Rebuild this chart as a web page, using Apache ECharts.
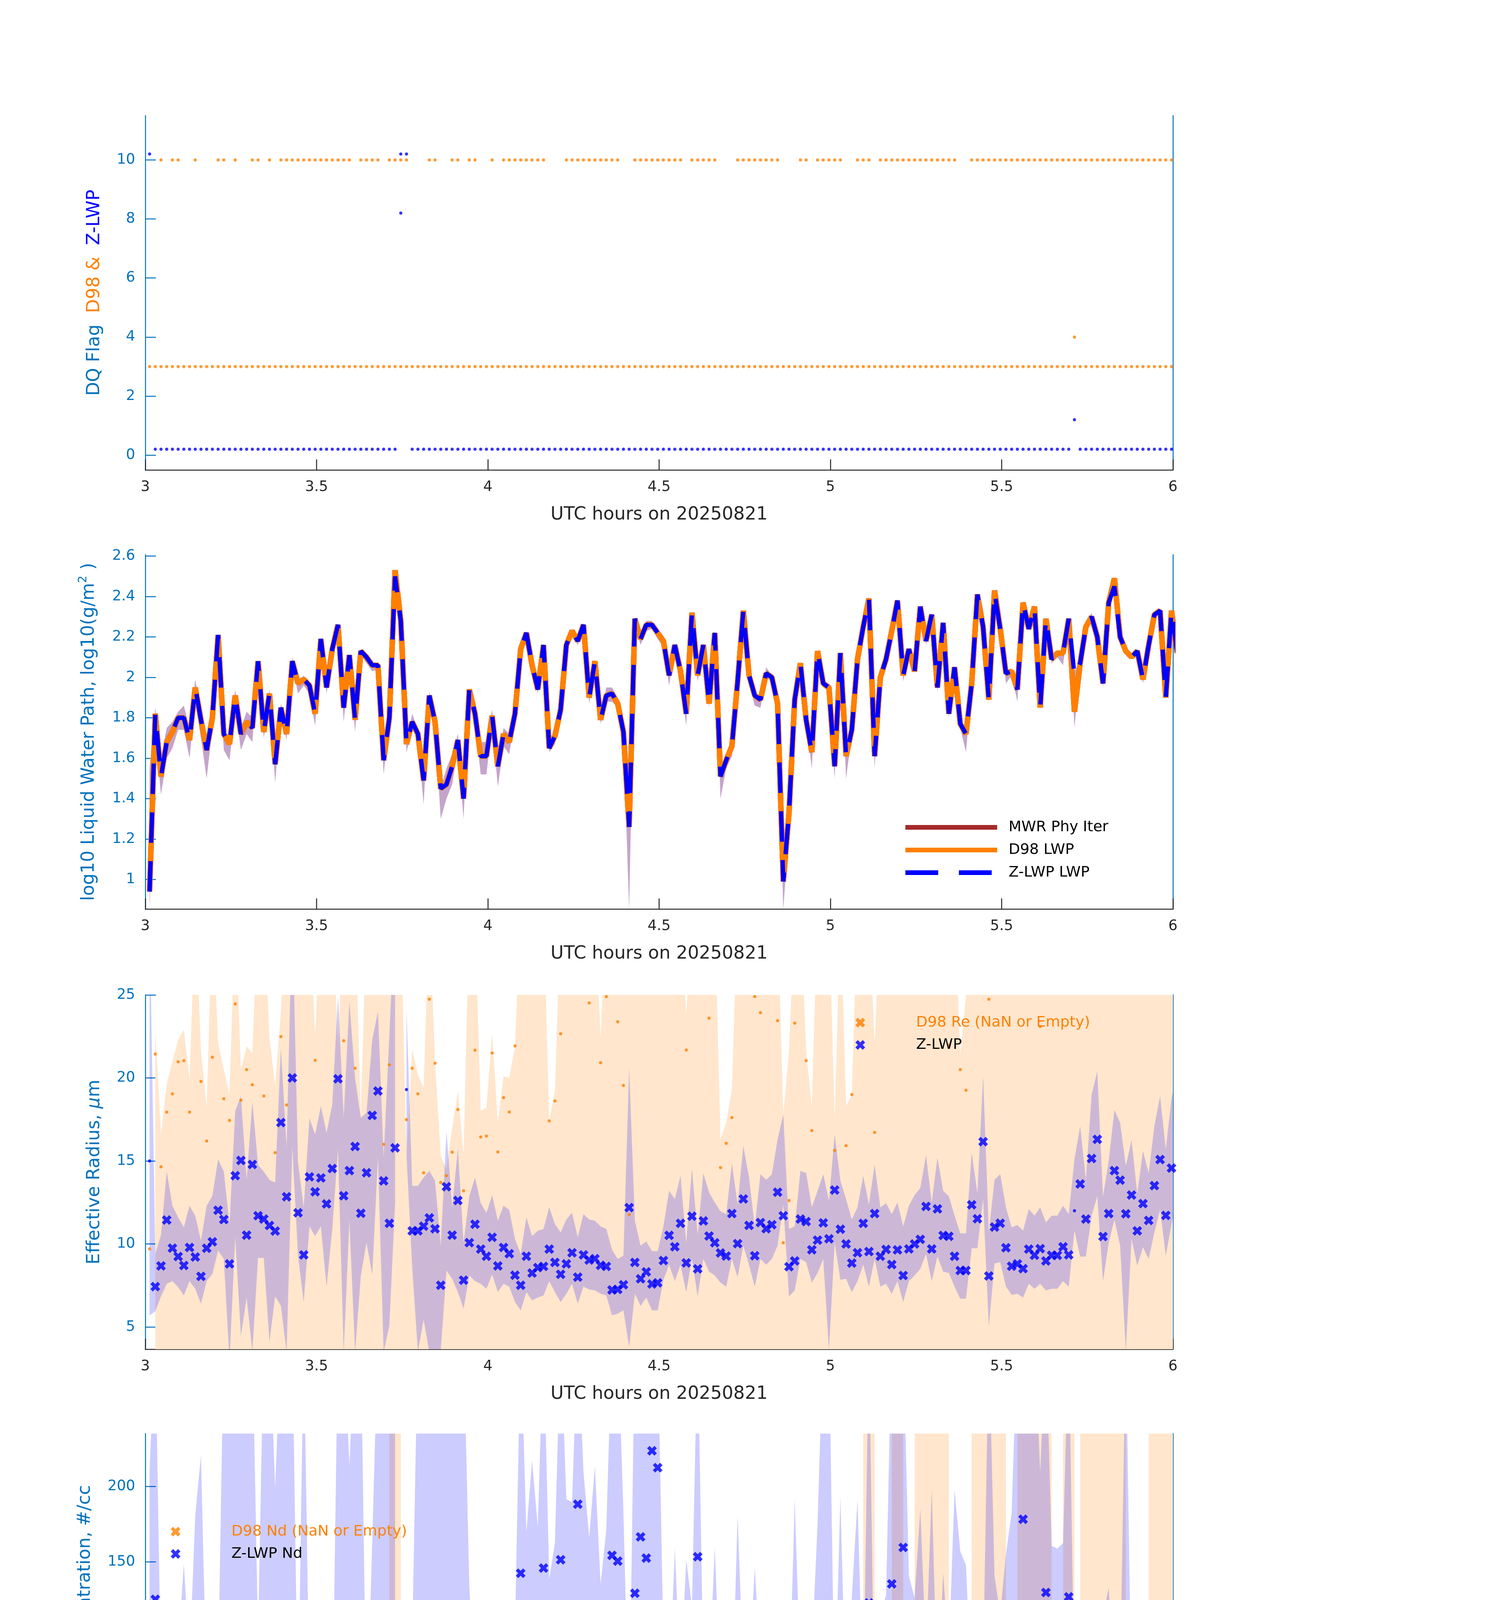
<!DOCTYPE html>
<html><head><meta charset="utf-8">
<script src="https://cdn.jsdelivr.net/npm/echarts@6/dist/echarts.min.js"></script>
<style>html,body{margin:0;padding:0;background:#fff}#chart{width:3825px;height:6000px}</style>
</head><body><div id="chart"></div>
<script>
// ---------------- time base: one sample per minute ----------------
const START_HOUR = 3.0125;
const STEP_HOUR = 1 / 60;

// ---------------- Panel 1: DQ flags ----------------
const zlwpDq = [
 10.2,0.2,0.2,0.2,0.2,0.2,0.2,0.2,0.2,0.2,
 0.2,0.2,0.2,0.2,0.2,0.2,0.2,0.2,0.2,0.2,
 0.2,0.2,0.2,0.2,0.2,0.2,0.2,0.2,0.2,0.2,
 0.2,0.2,0.2,0.2,0.2,0.2,0.2,0.2,0.2,0.2,
 0.2,0.2,0.2,0.2,10.2,10.2,0.2,0.2,0.2,0.2,
 0.2,0.2,0.2,0.2,0.2,0.2,0.2,0.2,0.2,0.2,
 0.2,0.2,0.2,0.2,0.2,0.2,0.2,0.2,0.2,0.2,
 0.2,0.2,0.2,0.2,0.2,0.2,0.2,0.2,0.2,0.2,
 0.2,0.2,0.2,0.2,0.2,0.2,0.2,0.2,0.2,0.2,
 0.2,0.2,0.2,0.2,0.2,0.2,0.2,0.2,0.2,0.2,
 0.2,0.2,0.2,0.2,0.2,0.2,0.2,0.2,0.2,0.2,
 0.2,0.2,0.2,0.2,0.2,0.2,0.2,0.2,0.2,0.2,
 0.2,0.2,0.2,0.2,0.2,0.2,0.2,0.2,0.2,0.2,
 0.2,0.2,0.2,0.2,0.2,0.2,0.2,0.2,0.2,0.2,
 0.2,0.2,0.2,0.2,0.2,0.2,0.2,0.2,0.2,0.2,
 0.2,0.2,0.2,0.2,0.2,0.2,0.2,0.2,0.2,0.2,
 0.2,0.2,1.2,0.2,0.2,0.2,0.2,0.2,0.2,0.2,
 0.2,0.2,0.2,0.2,0.2,0.2,0.2,0.2,0.2,0.2,
 0.2];
const zlwpDqExtra = [[44, 8.2]];
const d98DqLow = [
 3,3,3,3,3,3,3,3,3,3, 3,3,3,3,3,3,3,3,3,3, 3,3,3,3,3,3,3,3,3,3,
 3,3,3,3,3,3,3,3,3,3, 3,3,3,3,3,3,3,3,3,3, 3,3,3,3,3,3,3,3,3,3,
 3,3,3,3,3,3,3,3,3,3, 3,3,3,3,3,3,3,3,3,3, 3,3,3,3,3,3,3,3,3,3,
 3,3,3,3,3,3,3,3,3,3, 3,3,3,3,3,3,3,3,3,3, 3,3,3,3,3,3,3,3,3,3,
 3,3,3,3,3,3,3,3,3,3, 3,3,3,3,3,3,3,3,3,3, 3,3,3,3,3,3,3,3,3,3,
 3,3,3,3,3,3,3,3,3,3, 3,3,3,3,3,3,3,3,3,3, 3,3,3,3,3,3,3,3,3,3,
 3];
const d98DqHigh = [
 null,null,10,null,10,10,null,null,10,null,
 null,null,10,10,null,10,null,null,10,10,
 null,10,null,10,10,10,10,10,10,10,
 10,10,10,10,10,10,null,10,10,10,
 10,null,10,10,10,10,null,null,null,10,
 10,null,null,10,10,null,10,10,null,null,
 10,null,10,10,10,10,10,10,10,10,
 null,null,null,10,10,10,10,10,10,10,
 10,10,10,null,null,10,10,10,10,10,
 10,10,10,10,null,10,10,10,10,10,
 null,null,null,10,10,10,10,10,10,10,
 10,null,null,null,10,10,null,10,10,10,
 10,10,null,null,10,10,10,null,10,10,
 10,10,10,10,10,10,10,10,10,10,
 10,10,null,null,10,10,10,10,10,10,
 10,10,10,10,10,10,10,10,10,10,
 10,10,10,10,10,10,10,10,10,10,
 10,10,10,10,10,10,10,10,10,10,
 10];
const d98DqExtra = [[162, 4]];

// ---------------- Panel 2: log10 LWP ----------------
const zlwpLwp = [
 0.94,1.82,1.51,1.68,1.73,1.80,1.80,1.69,1.95,1.79,
 1.64,1.80,2.21,1.72,1.67,1.91,1.72,1.78,1.75,2.08,
 1.73,1.92,1.57,1.85,1.72,2.08,1.97,1.99,1.96,1.82,
 2.19,1.95,2.14,2.26,1.85,2.11,1.79,2.13,2.10,2.06,
 2.06,1.59,1.80,2.50,2.28,1.67,1.78,1.72,1.49,1.91,
 1.78,1.45,1.47,1.56,1.69,1.40,1.94,1.82,1.61,1.61,
 1.81,1.56,1.72,1.68,1.82,2.14,2.22,2.06,1.94,2.16,
 1.65,1.71,1.84,2.16,2.23,2.18,2.26,1.90,2.08,1.79,
 1.91,1.92,1.87,1.73,1.26,2.29,2.19,2.26,2.26,2.22,
 2.18,2.01,2.16,2.03,1.82,2.32,2.01,2.16,1.87,2.22,
 1.51,1.59,1.66,1.98,2.33,2.01,1.91,1.89,2.02,2.00,
 1.87,0.99,1.33,1.89,2.07,1.79,1.63,2.13,1.97,1.95,
 1.56,2.12,1.61,1.74,2.09,2.25,2.39,1.61,2.00,2.09,
 2.23,2.38,2.01,2.14,2.03,2.35,2.18,2.31,1.95,2.27,
 1.82,2.05,1.77,1.72,1.97,2.41,2.25,1.89,2.42,2.24,
 2.02,2.03,1.94,2.37,2.24,2.35,1.85,2.29,2.09,2.12,
 2.12,2.29,2.01,2.07,2.25,2.30,2.20,1.97,2.37,2.45,
 2.20,2.13,2.10,2.13,1.99,2.16,2.31,2.33,1.90,2.33,
 2.12];
const d98Lwp = [
 0.94,1.82,1.51,1.68,1.73,1.80,1.80,1.69,1.95,1.79,
 1.64,1.80,2.21,1.72,1.67,1.91,1.72,1.78,1.75,2.08,
 1.73,1.92,1.57,1.85,1.72,2.08,1.97,1.99,1.96,1.82,
 2.19,1.95,2.14,2.26,1.85,2.11,1.79,2.13,2.10,2.06,
 2.06,1.59,1.80,2.53,2.28,1.67,1.78,1.72,1.49,1.91,
 1.78,1.45,1.47,1.56,1.69,1.40,1.94,1.82,1.61,1.61,
 1.81,1.56,1.72,1.68,1.82,2.14,2.22,2.06,1.94,2.16,
 1.65,1.71,1.84,2.16,2.23,2.18,2.26,1.90,2.08,1.79,
 1.91,1.92,1.87,1.73,1.26,2.29,2.19,2.26,2.26,2.22,
 2.18,2.01,2.16,2.03,1.82,2.32,2.01,2.16,1.87,2.22,
 1.51,1.59,1.66,1.98,2.33,2.01,1.91,1.89,2.02,2.00,
 1.87,0.99,1.33,1.89,2.07,1.79,1.63,2.13,1.97,1.95,
 1.56,2.12,1.61,1.74,2.09,2.25,2.39,1.61,2.00,2.09,
 2.23,2.38,2.01,2.14,2.03,2.35,2.18,2.31,1.95,2.27,
 1.82,2.05,1.77,1.72,1.97,2.41,2.25,1.89,2.43,2.24,
 2.02,2.03,1.94,2.37,2.24,2.35,1.85,2.29,2.09,2.12,
 2.12,2.29,1.83,2.07,2.25,2.30,2.20,1.97,2.37,2.49,
 2.20,2.13,2.10,2.13,1.99,2.16,2.31,2.33,1.90,2.33,
 2.12];
const mwrLwp = d98Lwp; // MWR physical retrieval lies under the D98 curve
const lwpLo = [
 0.85,1.72,1.42,1.6,1.65,1.74,1.74,1.6,1.88,1.7,
 1.5,1.75,2.18,1.64,1.59,1.85,1.64,1.72,1.68,2.05,
 1.7,1.88,1.48,1.82,1.69,2.06,1.92,1.96,1.92,1.76,
 2.17,1.92,2.12,2.24,1.78,2.06,1.73,2.11,2.07,2.03,
 2.04,1.52,1.78,2.49,2.26,1.63,1.74,1.7,1.37,1.89,
 1.75,1.3,1.4,1.47,1.65,1.3,1.9,1.78,1.52,1.52,
 1.77,1.46,1.66,1.62,1.8,2.13,2.2,2.04,1.92,2.14,
 1.63,1.67,1.83,2.15,2.21,2.16,2.24,1.87,2.05,1.77,
 1.88,1.88,1.85,1.7,0.85,2.27,2.16,2.23,2.24,2.19,
 2.15,1.96,2.14,1.99,1.76,2.31,1.98,2.14,1.85,2.2,
 1.4,1.55,1.61,1.96,2.31,1.97,1.86,1.85,2.0,1.98,
 1.85,0.85,1.25,1.87,2.06,1.78,1.55,2.11,1.95,1.93,
 1.5,2.1,1.5,1.72,2.08,2.24,2.38,1.55,1.98,2.08,
 2.22,2.37,1.98,2.13,2.02,2.34,2.16,2.3,1.93,2.26,
 1.8,2.04,1.75,1.63,1.95,2.4,2.23,1.87,2.41,2.22,
 1.97,2.01,1.88,2.36,2.23,2.34,1.84,2.28,2.07,2.1,
 2.06,2.28,1.75,2.05,2.23,2.29,2.19,1.95,2.36,2.44,
 2.19,2.12,2.09,2.12,1.97,2.15,2.3,2.32,1.89,2.32,
 2.11];
const lwpHi = [
 1.55,1.85,1.6,1.75,1.78,1.83,1.86,1.75,1.99,1.82,
 1.66,1.82,2.22,1.75,1.68,1.94,1.75,1.83,1.8,2.09,
 1.75,1.94,1.6,1.87,1.75,2.1,1.97,2.01,1.97,1.82,
 2.2,1.96,2.15,2.27,1.85,2.11,1.8,2.13,2.1,2.07,
 2.07,1.6,1.8,2.53,2.3,1.67,1.82,1.74,1.5,1.93,
 1.79,1.45,1.55,1.62,1.72,1.42,1.95,1.83,1.68,1.68,
 1.84,1.57,1.75,1.72,1.84,2.15,2.23,2.07,1.95,2.17,
 1.66,1.72,1.85,2.17,2.24,2.19,2.27,1.91,2.09,1.8,
 1.95,1.95,1.9,1.75,1.28,2.3,2.2,2.28,2.28,2.22,
 2.18,2.02,2.17,2.04,1.83,2.33,2.02,2.17,1.88,2.23,
 1.51,1.62,1.67,1.99,2.34,2.02,1.91,1.9,2.05,2.01,
 1.87,1.05,1.42,1.9,2.08,1.8,1.64,2.14,1.98,1.96,
 1.58,2.13,1.62,1.75,2.1,2.26,2.4,1.62,2.0,2.1,
 2.24,2.39,2.02,2.15,2.04,2.36,2.19,2.32,1.96,2.28,
 1.83,2.06,1.8,1.74,1.98,2.42,2.26,1.9,2.43,2.25,
 2.03,2.04,1.95,2.38,2.25,2.36,1.87,2.3,2.1,2.13,
 2.12,2.3,2.03,2.08,2.26,2.32,2.21,1.98,2.38,2.49,
 2.21,2.14,2.11,2.14,2.0,2.17,2.32,2.34,1.91,2.34,
 2.13];

// ---------------- Panel 3: effective radius ----------------
const zlwpRe = [
 null,7.43,8.68,11.44,9.75,9.24,8.70,9.79,9.21,8.05,
 9.74,10.13,12.03,11.47,8.80,14.11,15.03,10.53,14.79,11.70,
 11.50,11.11,10.78,17.31,12.84,20.0,11.88,9.34,14.04,13.14,
 13.98,12.41,14.54,19.95,12.90,14.42,15.87,11.85,14.29,17.74,
 19.21,13.80,11.24,15.79,null,null,10.79,10.79,11.07,11.57,
 10.91,7.51,13.45,10.53,12.62,7.82,10.08,11.19,9.69,9.26,
 10.40,8.68,9.79,9.41,8.12,7.51,9.26,8.25,8.58,8.65,
 9.69,8.89,8.17,8.80,9.47,8.00,9.34,9.03,9.11,8.71,
 8.65,7.23,7.26,7.54,12.19,8.89,7.90,8.32,7.59,7.66,
 9.0,10.52,9.83,11.24,8.86,11.67,8.50,11.39,10.48,10.07,
 9.46,9.27,11.83,10.02,12.71,11.12,9.29,11.29,10.92,11.16,
 13.12,11.70,8.63,8.98,11.50,11.35,9.65,10.23,11.27,10.31,
 13.25,10.89,10.0,8.85,9.47,11.24,9.54,11.83,9.26,9.67,
 8.76,9.64,8.10,9.70,10.0,10.28,12.26,9.70,12.11,10.51,
 10.46,9.26,8.40,8.40,12.36,11.52,16.16,8.07,11.02,11.25,
 9.77,8.66,8.80,8.51,9.69,9.32,9.72,8.98,9.32,9.31,
 9.83,9.34,null,13.61,11.50,15.15,16.30,10.45,11.83,14.42,
 13.84,11.82,12.95,10.79,12.43,11.42,13.51,15.08,11.72,14.57,
 16.0];
const zlwpReFlagged = [[0, 15.0], [45, 19.3], [162, 12.0]];
const reLo = [
 5.7,5.94,6.85,7.6,7.76,7.4,6.9,7.76,7.3,6.4,
 7.76,8.2,9.6,9.1,3.0,10.4,4.46,6.77,3.55,9.16,
 9.16,4.13,6.85,6.27,3.5,15.84,9.3,6.5,11.06,10.48,
 11.06,7.43,10.9,15.7,3.5,11.4,3.5,8.1,10.07,8.16,
 15.2,3.5,5.1,12.5,null,15.35,8.6,3.5,5.45,3.5,
 3.5,3.6,8.4,7.9,7.1,6.1,8.1,7.76,7.6,7.3,
 8.16,7.1,7.6,7.43,6.5,6.0,7.1,6.6,6.77,6.9,
 7.76,7.1,6.5,7.0,7.6,6.4,7.43,7.26,7.2,7.0,
 6.9,5.7,5.8,6.0,3.8,7.0,6.27,6.77,6.0,6.0,
 7.84,8.75,7.76,8.75,7.1,9.1,6.85,9.1,8.33,8.1,
 7.67,7.43,9.1,8.0,9.9,8.75,7.43,9.1,8.75,9.1,
 9.9,12.38,6.85,7.2,9.1,8.9,7.67,8.25,9.1,3.6,
 10.07,7.84,7.9,7.1,7.76,8.75,7.43,9.1,7.43,7.6,
 7.0,7.76,6.5,7.76,8.1,8.5,9.4,7.76,9.24,8.33,
 8.25,7.43,6.7,6.7,9.74,9.74,12.7,5.03,8.83,8.9,
 7.43,6.93,7.0,6.77,7.6,7.3,7.6,7.2,7.3,7.3,
 7.76,7.43,10.8,9.24,9.24,11.7,12.87,7.76,10.07,11.47,
 9.9,3.55,10.3,8.7,9.8,9.1,10.7,12.05,9.3,11.2,
 12.7];
const reHi = [
 30,9.4,10.56,14.36,12.3,11.6,11.0,12.3,11.7,10.2,
 12.3,12.9,15.1,14.36,11.2,18.0,18.9,13.86,18.56,14.77,
 14.36,13.86,13.7,21.8,15.84,30,14.9,12.2,17.57,16.6,
 18.3,16.7,18.4,24.9,17.65,24.6,19.97,17.6,17.9,22.3,
 24.0,15.2,22.6,30,null,24.2,13.5,13.5,14.0,14.4,
 13.8,9.9,16.8,12.2,15.76,10.07,12.87,14.0,12.46,11.88,
 12.95,11.4,12.3,12.05,10.3,9.4,11.6,10.48,10.8,10.9,
 12.2,11.2,10.7,11.47,11.88,10.4,11.8,11.47,11.4,11.06,
 10.9,9.65,9.1,9.3,20.6,11.4,9.9,10.15,9.57,9.57,
 11.06,13.2,12.7,14.1,10.07,14.55,10.56,14.27,13.1,12.5,
 11.96,11.8,14.85,12.38,15.9,14.0,11.06,14.2,13.86,14.2,
 16.3,17.8,10.9,11.06,14.4,14.27,12.2,13.2,14.2,12.6,
 16.6,13.8,12.7,11.47,12.2,14.1,12.38,14.77,12.2,12.46,
 11.8,12.5,11.06,12.3,12.95,13.37,15.35,12.5,15.2,13.2,
 12.87,11.7,10.64,10.64,15.5,13.04,20.13,10.7,13.86,14.2,
 12.2,11.0,11.14,10.8,12.1,11.7,12.2,11.3,11.7,11.7,
 12.3,11.8,15.1,17.1,13.86,18.97,20.4,12.87,15.0,18.07,
 17.3,14.7,16.25,13.04,15.6,14.27,17.1,18.9,15.7,18.8,
 20.05];
const d98ReHi = [
 null,22.9,16.6,19.6,21.0,22.3,22.9,19.9,30,21.6,
 18.2,30,22.1,20.5,19.0,30,20.5,21.9,21.5,30,
 30,22.4,19.5,24.0,30,30,30,30,30,22.5,
 30,30,30,22.0,30,30,30,17.7,30,30,
 30,30,30,30,30,15.3,21.7,20.2,19.4,30,
 20.9,15.3,14.5,17.0,19.2,15.4,30,30,18.0,18.2,
 22.7,17.3,20.1,20.0,21.9,30,30,30,30,30,
 17.4,19.2,30,30,30,30,30,30,30,22.4,
 30,30,30,30,30,30,30,30,30,30,
 30,30,30,30,23.8,30,30,30,30,30,
 16.3,17.3,19.3,30,30,30,30,30,30,30,
 30,17.8,21.6,30,30,21.6,18.3,30,30,30,
 17.5,30,18.3,19.0,30,30,30,22.0,30,30,
 30,30,30,30,30,30,30,30,30,30,
 30,30,21.45,24.9,30,30,30,30,30,30,
 30,30,30,30,30,30,30,30,30,30,
 30,30,30,30,30,30,30,30,30,30,
 30,30,30,30,30,30,30,30,30,30,
 30];
const d98ReDots = [
 [0,9.7],[1,21.44],[2,14.65],[3,17.94],[4,19.04],[5,20.97],[6,21.04],[7,17.94],[9,19.79],[10,16.2],
 [11,21.25],[13,18.75],[14,17.44],[15,24.46],[16,18.66],[17,20.5],[18,19.59],[20,18.91],[22,15.5],[23,22.49],
 [24,18.37],[29,21.06],[34,22.24],[36,20.58],[41,16.0],[42,20.79],[45,17.49],[46,20.58],[47,19.04],[48,14.29],
 [49,24.74],[50,20.89],[51,13.7],[52,14.11],[53,15.53],[54,18.1],[55,13.2],[57,21.67],[58,16.44],[59,16.5],
 [60,21.5],[61,15.54],[62,18.81],[63,17.95],[64,21.93],[70,17.41],[71,18.61],[72,22.66],[77,24.52],[79,20.92],
 [80,24.9],[82,23.38],[83,19.55],[84,11.77],[94,21.68],[98,23.6],[100,14.6],[101,16.06],[102,17.61],[106,24.9],
 [107,23.93],[110,23.45],[111,10.07],[112,12.62],[113,23.3],[115,21.04],[116,16.83],[120,15.63],[122,15.92],[123,19.0],
 [127,16.72],[140,21.96],[142,20.5],[143,19.26],[147,24.74],[156,23.1]];

// ---------------- Panel 4: droplet concentration ----------------
const zlwpNd = [
 null,125.1,25.6,28.4,34.9,45.8,74.7,41.3,87.5,111.5,
 31.3,48.2,37.3,17.5,60.0,19.8,10.7,50.7,9.6,47.6,
 29.3,50.2,20.9,6.9,10.2,7.8,36.2,62.0,21.6,16.0,
 26.9,22.0,17.6,12.0,16.9,37.6,13.5,59.1,18.7,9.6,
 8.7,10.5,19.1,56.0,null,null,49.6,46.9,21.1,42.7,
 34.5,75.1,10.0,15.5,14.5,47.8,74.2,23.1,41.8,47.1,
 42.0,45.8,29.6,33.3,55.8,142.4,84.2,108.7,86.0,145.8,
 33.6,73.3,151.3,95.6,94.9,188.2,106.4,83.1,107.3,66.5,
 86.4,154.2,150.4,114.2,9.6,129.1,166.5,152.4,223.6,212.4,
 91.8,39.1,80.2,36.0,76.0,60.0,153.3,52.0,41.5,80.5,
 30.9,45.1,26.0,75.1,41.5,37.3,73.3,26.0,48.9,35.5,
 20.5,5.1,29.6,96.7,35.5,29.1,43.6,88.9,36.5,48.7,
 10.2,55.1,27.8,64.4,96.7,56.5,122.7,16.9,57.8,63.5,
 135.3,107.6,159.5,70.5,54.7,93.6,36.7,100.0,22.2,71.6,
 47.6,99.3,78.4,73.6,23.3,64.0,17.8,96.4,70.4,55.1,
 64.0,80.9,115.3,178.2,91.5,120.2,40.9,129.6,80.4,78.7,
 81.1,126.7,null,27.6,60.7,25.3,18.2,44.2,66.9,38.9,
 33.3,47.1,29.3,61.6,27.1,58.0,46.5,37.6,33.6,38.2,
 15.8];
const zlwpNdFlagged = [[0, 1.8], [44, 4.5], [45, 4.5], [162, 30.0]];
const ndLo = [
 0,62.4,13.3,15.1,22.4,36.9,37.8,20.5,42.4,55.1,
 15.1,24.2,18.7,7.8,29.6,7.8,4.2,25.1,4.2,15.1,
 11.5,24.2,13.3,2.4,3.3,2.4,6.0,44.2,9.6,8.7,
 13.3,10.5,9.6,5.1,9.6,15.1,5.1,16.9,9.6,5.1,
 6.0,6.9,9.6,9.6,null,null,24.2,23.3,16.9,17.8,
 16.9,15.1,6.0,7.8,7.8,22.4,36.9,15.1,22.4,24.2,
 21.5,22.4,15.1,16.9,27.8,71.5,42.4,54.2,44.2,76.9,
 16.9,47.8,69.6,47.8,47.8,100.5,53.3,41.5,53.3,33.3,
 44.2,77.8,75.1,56.9,0.5,64.2,83.3,76.9,115.1,106.0,
 53.3,19.6,44.2,18.7,36.9,30.5,104.2,26.0,20.5,29.6,
 15.1,20.5,13.3,35.1,20.5,18.7,35.1,15.1,27.8,18.7,
 11.5,0.5,11.5,71.5,18.7,15.1,22.4,38.7,18.7,24.2,
 6.0,16.9,11.5,23.3,47.8,29.6,71.5,13.3,30.5,35.1,
 62.4,54.2,78.7,35.1,29.6,49.6,18.7,49.6,16.9,38.7,
 27.8,42.4,38.7,36.9,13.3,26.0,9.6,47.8,35.1,27.8,
 33.3,44.2,75.1,87.8,60.5,71.5,20.5,89.6,40.5,39.6,
 40.5,64.2,11.5,13.3,29.6,11.5,8.7,27.8,38.7,20.5,
 16.9,22.4,15.1,35.1,15.1,31.5,24.2,18.7,16.9,20.5,
 8.0];
const ndHi = [
 211,300,71,120.5,69.6,91.5,148.7,84.2,180.5,220.9,
 62.4,97.8,75.1,300,300,300,300,300,300,100.5,
 300,300,198.7,300,300,300,44.2,300,60.5,36.9,
 60.5,53.3,35.1,300,300,214,300,300,35.1,163.3,
 300,300,300,300,null,null,98.7,300,300,300,
 300,300,300,300,300,300,135.1,53.3,89.6,100.5,
 84.2,91.5,60.5,73.3,102.4,300,169.6,216.9,173.3,300,
 138.7,162.4,300,191.5,189.6,300,209.6,166.0,213.3,135.1,
 171.5,300,300,182.4,35.1,300,300,300,300,300,
 96.9,62.4,158.7,71.5,151.5,120.5,300,76.0,71.5,159.6,
 62.4,88.7,49.6,180.5,76.9,73.3,146.0,80.5,96.9,80.5,
 56.9,8.7,53.3,191.5,71.5,58.7,89.6,175.1,300,300,
 51.5,193.3,47.8,126.0,191.5,53.3,300,40.5,115.1,127.8,
 300,300,300,140.5,126.0,185.1,89.6,197.8,60.5,142.4,
 89.6,197.8,156.9,147.8,60.5,126.0,78.7,300,140.5,115.1,
 155.1,182.4,300,300,300,300,209.6,300,160.5,158.7,
 162.4,300,59.6,55.1,120.5,53.3,46.0,115.1,132.4,76.9,
 71.5,300,53.3,122.4,44.2,115.1,89.6,71.5,67.8,75.1,
 50];
const d98Nd = [
 7.8,5.5,4.5,6.5,4.7,3.3,6.0,6.9,2.9,6.7,
 6.7,5.6,0.9,2.9,7.3,3.3,6.0,6.9,4.2,1.8,
 6.0,4.7,6.9,2.9,2.9,1.6,2.9,2.0,2.4,3.6,
 0.9,2.0,0.9,0.7,2.9,1.5,5.6,1.5,1.5,1.8,
 1.5,6.0,2.9,0.9,1.8,null,6.0,6.9,9.6,2.4,
 4.7,12.9,8.7,4.7,4.5,10.2,3.8,2.9,10.2,9.6,
 4.2,7.3,3.6,4.7,2.4,0.9,0.9,1.5,2.7,1.5,
 6.0,7.5,7.5,0.9,0.9,1.3,0.9,4.5,1.8,4.7,
 3.6,3.6,4.2,6.5,7.8,0.9,0.9,0.9,0.9,1.5,
 1.5,1.8,1.8,1.8,5.6,0.5,3.8,1.5,3.5,1.1,
 7.8,9.1,7.8,3.6,0.5,1.8,3.6,2.7,2.4,2.0,
 3.8,7.8,7.8,5.5,1.5,4.5,9.1,2.0,2.4,2.7,
 3.8,1.5,6.0,6.0,2.0,0.9,0.9,5.6,1.8,1.5,
 1.5,0.9,3.3,1.1,1.5,0.9,0.9,1.1,1.8,0.9,
 4.5,1.8,5.5,5.5,1.8,0.5,0.9,3.6,0.5,0.5,
 2.0,1.8,3.8,0.5,0.5,0.5,2.4,0.5,1.5,1.5,
 1.8,0.9,2.0,1.5,0.9,0.5,0.9,1.8,0.5,0.5,
 1.5,1.5,1.5,1.5,2.0,1.5,0.9,0.9,3.3,0.9,
 1.5];
// sample-index spans where the D98 retrieval is NaN/empty (full-height shading)
const d98NdNanSpans = [[42,44],[125,127],[130,132],[134,140],[144,150],[152,158],[160,162],[163,171],[175,180]];

// ---------------- Panel 5: optical depth ----------------
const zlwpOd = [
 null,13.2,5.8,6.5,8.3,10.3,10.9,7.4,14.8,10.8,
 6.2,9.5,20.1,6.9,7.9,8.7,5.2,8.8,5.8,15.4,
 7.0,11.3,5.1,6.2,6.0,9.1,11.4,15.7,9.7,7.3,
 16.6,10.6,14.3,13.9,8.2,13.6,5.9,17.3,13.1,9.7,
 9.1,4.3,8.3,32.3,null,null,8.6,7.5,4.1,10.8,
 8.7,5.5,3.3,5.2,5.9,4.8,13.0,8.9,6.3,6.6,
 9.5,6.3,8.0,7.6,12.5,27.0,27.2,21.5,15.5,24.7,
 7.1,8.7,13.0,25.2,27.4,28.7,29.6,13.2,20.2,10.8,
 14.6,17.6,15.6,11.2,2.2,33.7,29.4,33.2,37.2,33.2,
 25.3,14.7,22.0,14.7,11.2,27.3,18.1,19.1,10.8,24.6,
 5.1,6.2,5.9,13.4,25.5,14.1,13.2,10.2,14.6,13.6,
 8.5,1.3,4.0,12.3,15.9,8.2,6.5,20.0,12.5,12.9,
 4.2,18.4,5.7,9.0,18.8,24.0,38.4,5.3,16.2,19.4,
 27.8,37.8,19.3,21.6,16.4,32.4,18.7,31.9,11.3,27.3,
 9.6,18.5,10.6,9.6,12.1,33.3,16.4,14.6,39.0,23.8,
 16.3,18.9,15.0,41.8,28.3,36.1,11.2,32.7,20.2,21.5,
 19.8,31.4,null,13.4,23.3,19.9,14.8,13.7,30.1,32.8,
 17.5,17.2,14.5,18.8,12.1,18.1,23.0,21.7,10.4,22.6,
 12.5];
const zlwpOdFlagged = [[0, 0.85], [44, 9.5], [45, 3.7], [162, 12.2]];
const odLo = [
 0,10.6,4.4,5.2,6.7,8.4,9.0,5.9,12.2,8.1,
 4.4,6.9,15.6,5.4,6.1,6.7,3.7,7.1,5.4,11.9,
 5.4,8.4,3.9,4.7,4.5,5.7,7.9,12.5,6.7,5.9,
 12.5,7.9,11.5,11.3,6.6,10.5,5.6,11.5,11.0,7.9,
 7.3,3.0,5.4,24.1,7.6,3.0,6.9,5.4,3.0,8.8,
 6.9,3.3,2.7,3.3,4.4,3.3,10.2,6.7,4.9,4.9,
 7.1,4.7,5.7,5.6,9.5,21.4,21.6,15.8,12.5,18.7,
 5.7,6.7,9.8,20.0,21.7,23.1,23.4,10.5,15.6,8.6,
 11.2,14.4,12.5,7.8,0.6,26.2,23.4,27.2,29.4,27.2,
 18.7,11.9,18.0,11.5,9.1,20.4,14.2,14.6,8.8,18.7,
 3.3,4.0,4.0,11.2,20.4,11.3,11.5,8.4,12.2,11.5,
 6.7,0.3,2.7,10.2,12.9,6.4,4.7,16.3,10.0,10.2,
 3.3,14.6,4.7,7.1,15.9,20.4,30.6,4.4,12.9,15.3,
 22.4,30.9,15.3,17.0,13.2,25.5,15.3,24.8,8.4,20.4,
 7.4,14.2,8.4,7.1,9.5,26.2,12.9,11.5,31.3,18.7,
 12.9,14.9,12.0,33.0,23.8,33.0,9.1,26.5,17.0,15.9,
 15.6,25.0,6.2,10.8,18.5,17.0,11.9,10.8,24.1,26.5,
 14.1,13.6,12.2,15.9,9.8,17.0,19.0,17.6,8.4,18.0,
 10.2];
const odHi = [
 2.3,16.7,8.4,9.8,10.3,12.9,13.7,10.2,18.6,15.3,
 8.4,12.2,25.1,11.5,60,13.2,17.5,11.2,25.1,19.9,
 10.5,30.4,9.1,11.2,60,12.9,14.9,22.6,12.5,9.8,
 20.9,18.2,18.0,17.5,60,16.6,26.5,29.4,15.6,19.9,
 11.5,24.3,15.9,40.6,11.9,4.7,10.8,60,10.7,60,
 10.8,11.5,10.3,7.8,10.3,7.4,16.5,11.0,8.1,8.8,
 11.9,8.3,10.2,9.8,15.6,34.2,34.2,27.5,20.4,30.8,
 9.8,10.8,17.0,31.8,34.5,35.9,37.1,17.6,25.3,14.9,
 18.0,21.9,19.5,13.6,3.7,42.4,37.1,39.8,44.2,41.5,
 28.6,18.5,27.5,18.3,13.6,34.2,20.7,23.8,13.9,30.6,
 7.4,7.8,8.4,17.6,31.8,17.6,17.0,12.9,18.2,17.0,
 10.8,2.7,6.1,14.9,19.9,10.2,8.1,25.0,14.9,39.6,
 7.4,25.5,8.1,10.8,23.8,29.9,60,8.8,21.1,23.8,
 32.6,60,24.5,27.2,21.1,40.5,23.8,39.8,15.6,34.0,
 13.2,23.1,13.2,12.5,16.3,41.5,21.1,23.4,44.2,27.9,
 19.7,23.8,18.7,60,33.0,44.2,17.0,41.0,23.8,27.0,
 25.5,39.6,19.0,17.0,29.4,25.5,18.5,17.0,37.8,41.2,
 20.7,60,18.7,23.4,15.6,23.8,29.1,27.2,13.6,27.5,
 18.8];
const d98Od = [
 1.3,4.6,3.3,4.1,4.3,4.5,4.5,4.1,5.1,4.4,
 3.7,4.5,5.8,4.2,4.0,4.9,4.2,4.5,4.3,5.5,
 4.2,5.0,3.5,4.7,4.1,5.5,5.0,5.2,5.1,4.5,
 5.8,5.0,5.7,6.0,4.6,5.6,4.4,5.7,5.5,5.5,
 5.4,3.6,4.4,6.5,6.0,4.0,4.4,4.1,3.2,4.9,
 4.4,3.1,3.6,3.5,4.1,2.8,5.0,4.5,3.7,3.7,
 4.5,3.5,4.2,4.0,4.5,5.6,5.8,5.4,5.0,5.7,
 3.9,4.1,4.6,5.7,5.9,5.7,5.9,4.9,5.4,4.4,
 4.9,4.9,4.8,4.3,3.7,6.0,5.7,5.8,5.9,5.8,
 5.7,5.2,5.7,5.3,4.5,6.1,5.2,5.6,4.8,5.8,
 3.2,3.6,3.9,5.0,6.0,5.1,4.9,4.8,5.2,5.1,
 4.7,1.7,2.6,4.7,5.4,4.4,3.7,5.6,5.1,4.9,
 3.4,5.6,3.5,4.1,5.4,5.8,6.1,3.7,5.1,5.3,
 5.7,6.1,5.2,5.5,5.2,6.0,5.6,5.9,5.0,5.8,
 4.5,5.3,4.3,4.1,5.1,6.1,5.8,4.8,6.2,5.8,
 5.1,5.2,4.9,6.0,5.8,6.0,4.6,5.9,5.4,5.4,
 5.4,5.8,5.0,5.3,5.8,5.9,5.6,5.0,6.0,6.2,
 5.6,5.4,5.4,5.5,5.0,5.5,5.9,5.9,4.8,5.9,
 5.5];
const d98OdNanSpans = [[42,43],[125,127],[130,132],[134,140],[144,150],[152,158],[160,162],[163,171],[175,180]];

// ---------------- helpers ----------------
const FONT = 'DejaVu Sans';
const AXIS_BLUE = '#0072BD';
const ZBLUE = '#0000FF';
const ORANGE = '#FF8000';
const BAND_BLUE = 'rgba(0,0,255,0.2)';
const BAND_ORANGE = '#FFE6CC';
const X_PATH = 'path://M0,3L3,0L6,3L9,0L12,3L9,6L12,9L9,12L6,9L3,12L0,9L3,6Z';

const hours = zlwpLwp.map((_, i) => START_HOUR + i * STEP_HOUR);
const lineData = arr => arr.map((v, i) => [hours[i], v == null ? '-' : v]);
const pointData = arr => arr.map((v, i) => [hours[i], v]).filter(p => p[1] != null);
const indexed = pairs => pairs.map(([i, v]) => [hours[i], v]);
const spanAreas = spans => spans.map(([a, b]) => [{ xAxis: hours[a] }, { xAxis: Math.min(hours[b], 6) }]);

const TOPS = [296, 1420, 2547, 3670, 4795];
const PANEL_H = 907;

const yCfg = [
  { min: -0.5, max: 11.5, ticks: [0, 2, 4, 6, 8, 10], gap: 107,
    name: '{b|DQ Flag}  {o|D98 &}  {z|Z-LWP}' },
  { min: 0.854, max: 2.607, ticks: [1, 1.2, 1.4, 1.6, 1.8, 2, 2.2, 2.4, 2.6], gap: 114,
    name: '{a|log10 Liquid Water Path, log10(g/m}{s|2}{a| )}' },
  { min: 3.66, max: 25, ticks: [5, 10, 15, 20, 25], gap: 107,
    name: 'Effective Radius, {i|\u03BC}m' },
  { min: 0, max: 235, ticks: [0, 50, 100, 150, 200], gap: 131,
    name: 'Droplet Concentration, #/cc' },
  { min: 0, max: 44, ticks: [0, 5, 10, 15, 20, 25, 30, 35, 40], gap: 106,
    name: 'Optical Depth' }
];

const grids = TOPS.map(t => ({ left: 372, right: 822, top: t, height: PANEL_H, containLabel: false }));

const xAxes = TOPS.map((_, k) => ({
  gridIndex: k, type: 'value', min: 3, max: 6, interval: 0.5,
  axisLine: { show: true, onZero: false, lineStyle: { color: '#262626', width: 2.5 } },
  axisTick: { show: true, inside: true, length: 27, lineStyle: { color: '#262626', width: 2.5 } },
  axisLabel: { color: '#262626', fontSize: 37, margin: 26, fontFamily: FONT },
  splitLine: { show: false },
  name: 'UTC hours on 20250821', nameLocation: 'middle', nameGap: 92,
  nameTextStyle: { color: '#262626', fontSize: 46, fontFamily: FONT }
}));

const yAxes = [];
yCfg.forEach((c, k) => {
  yAxes.push({
    gridIndex: k, type: 'value', position: 'left', min: c.min, max: c.max,
    axisLine: { show: true, onZero: false, lineStyle: { color: AXIS_BLUE, width: 2.5 } },
    axisTick: { show: true, inside: true, length: 27, customValues: c.ticks, lineStyle: { color: AXIS_BLUE, width: 2.5 } },
    axisLabel: { show: true, customValues: c.ticks, color: AXIS_BLUE, fontSize: 37, margin: 26, fontFamily: FONT },
    splitLine: { show: false },
    name: c.name, nameLocation: 'middle', nameGap: c.gap, nameRotate: 90,
    nameTextStyle: {
      color: AXIS_BLUE, fontSize: 46, fontFamily: FONT,
      rich: {
        b: { color: AXIS_BLUE, fontSize: 46, fontFamily: FONT },
        o: { color: ORANGE, fontSize: 46, fontFamily: FONT },
        z: { color: ZBLUE, fontSize: 46, fontFamily: FONT },
        a: { color: AXIS_BLUE, fontSize: 46, fontFamily: FONT, lineHeight: 60 },
        s: { color: AXIS_BLUE, fontSize: 30, fontFamily: FONT, lineHeight: 60, verticalAlign: 'top' },
        i: { color: AXIS_BLUE, fontSize: 46, fontFamily: FONT, fontStyle: 'italic' }
      }
    }
  });
  yAxes.push({
    gridIndex: k, type: 'value', position: 'right', min: c.min, max: c.max,
    axisLine: { show: true, onZero: false, lineStyle: { color: AXIS_BLUE, width: 2.5 } },
    axisTick: { show: false }, axisLabel: { show: false }, splitLine: { show: false }
  });
});

const series = [];
const ax = k => ({ xAxisIndex: k, yAxisIndex: 2 * k });
const dot = (name, k, data, color, z) => Object.assign({
  type: 'scatter', name, data, symbol: 'circle', symbolSize: 8,
  itemStyle: { color }, z, silent: true, animation: false
}, ax(k));
const cross = (name, k, data, z) => Object.assign({
  type: 'scatter', name, data, symbol: X_PATH, symbolSize: 25,
  itemStyle: { color: ZBLUE }, z, silent: true, animation: false
}, ax(k));
// uncertainty envelope drawn as one filled polygon per run of valid samples
const band = (name, k, lo, hi, color, z) => {
  const runs = [];
  let cur = null;
  lo.forEach((v, i) => {
    if (v != null && hi[i] != null) { if (!cur) cur = []; cur.push(i); }
    else if (cur) { runs.push(cur); cur = null; }
  });
  if (cur) runs.push(cur);
  series.push(Object.assign({
    type: 'custom', name, clip: true, silent: true, animation: false, z,
    data: runs.map((r, j) => [hours[r[0]], j]),
    renderItem: (params, api) => {
      const run = runs[params.dataIndex];
      const pts = [];
      run.forEach(i => pts.push(api.coord([hours[i], hi[i]])));
      for (let m = run.length - 1; m >= 0; m--) pts.push(api.coord([hours[run[m]], lo[run[m]]]));
      return { type: 'polygon', shape: { points: pts }, style: { fill: color } };
    }
  }, ax(k)));
};
const lowerFill = (name, k, upper, spans, z) => Object.assign({
  type: 'line', name, data: lineData(upper), symbol: 'none',
  lineStyle: { width: 0, opacity: 0 },
  areaStyle: { color: BAND_ORANGE, opacity: 1, origin: 'start' },
  markArea: spans ? { silent: true, itemStyle: { color: BAND_ORANGE }, label: { show: false }, data: spanAreas(spans) } : undefined,
  z, silent: true, animation: false
}, ax(k));

// Panel 1
series.push(dot('D98 flag A', 0, pointData(d98DqLow), ORANGE, 2));
series.push(dot('D98 flag B', 0, pointData(d98DqHigh), ORANGE, 2));
series.push(dot('D98 flag C', 0, indexed(d98DqExtra), ORANGE, 2));
series.push(dot('Z-LWP flag', 0, pointData(zlwpDq), ZBLUE, 3));
series.push(dot('Z-LWP flag extra', 0, indexed(zlwpDqExtra), ZBLUE, 3));

// Panel 2
band('LWP uncertainty', 1, lwpLo, lwpHi, '#C5A4CB', 1);
series.push(Object.assign({ type: 'line', name: 'MWR Phy Iter', data: lineData(mwrLwp), symbol: 'none',
  lineStyle: { color: '#A52A2A', width: 14 }, itemStyle: { color: '#A52A2A' }, z: 3, silent: true, animation: false }, ax(1)));
series.push(Object.assign({ type: 'line', name: 'D98 LWP', data: lineData(d98Lwp), symbol: 'none',
  lineStyle: { color: ORANGE, width: 14 }, itemStyle: { color: ORANGE }, z: 4, silent: true, animation: false }, ax(1)));
series.push(Object.assign({ type: 'line', name: 'Z-LWP LWP', data: lineData(zlwpLwp), symbol: 'none',
  lineStyle: { color: ZBLUE, width: 11, type: [78, 47] }, itemStyle: { color: ZBLUE }, z: 5, silent: true, animation: false }, ax(1)));

// Panel 3
series.push(lowerFill('D98 Re band', 2, d98ReHi, null, 1));
band('Re uncertainty', 2, reLo, reHi, BAND_BLUE, 2);
series.push(dot('D98 Re (NaN or Empty)', 2, indexed(d98ReDots), ORANGE, 3));
series.push(cross('Z-LWP', 2, pointData(zlwpRe), 4));
series.push(dot('Z-LWP Re flagged', 2, indexed(zlwpReFlagged), ZBLUE, 4));

// Panel 4
series.push(lowerFill('D98 Nd band', 3, d98Nd, d98NdNanSpans, 1));
band('Nd uncertainty', 3, ndLo, ndHi, BAND_BLUE, 2);
series.push(dot('D98 Nd (NaN or Empty)', 3, pointData(d98Nd), ORANGE, 3));
series.push(cross('Z-LWP Nd', 3, pointData(zlwpNd), 4));
series.push(dot('Z-LWP Nd flagged', 3, indexed(zlwpNdFlagged), ZBLUE, 4));

// Panel 5
series.push(lowerFill('D98 OD band', 4, d98Od, d98OdNanSpans, 1));
band('OD uncertainty', 4, odLo, odHi, BAND_BLUE, 2);
series.push(dot('D98 OD (NaN or Empty)', 4, pointData(d98Od), ORANGE, 3));
series.push(cross('Z-LWP Nd', 4, pointData(zlwpOd), 4));
series.push(dot('Z-LWP OD flagged', 4, indexed(zlwpOdFlagged), ZBLUE, 4));

const legendText = { fontSize: 38, lineHeight: 44, color: '#000', fontFamily: FONT };
const markerLegend = (left, top, d98Name, zName) => ({
  orient: 'vertical', left, top, itemWidth: 276, itemHeight: 25, itemGap: 13,
  selectedMode: false, textStyle: legendText,
  data: [
    { name: d98Name, icon: X_PATH, itemStyle: { color: ORANGE }, textStyle: { color: ORANGE } },
    { name: zName, icon: X_PATH, itemStyle: { color: ZBLUE }, textStyle: { color: '#000' } }
  ]
});

const option = {
  animation: false,
  backgroundColor: '#fff',
  textStyle: { fontFamily: FONT },
  grid: grids,
  xAxis: xAxes,
  yAxis: yAxes,
  legend: [
    { orient: 'vertical', left: 2307, top: 2091, itemWidth: 235, itemHeight: 14, itemGap: 14,
      selectedMode: false, formatter: '  {name}', textStyle: legendText,
      data: [
        { name: 'MWR Phy Iter', itemStyle: { opacity: 0 }, lineStyle: { color: '#A52A2A', width: 12, type: 'solid' } },
        { name: 'D98 LWP', itemStyle: { opacity: 0 }, lineStyle: { color: ORANGE, width: 12, type: 'solid' } },
        { name: 'Z-LWP LWP', itemStyle: { opacity: 0 }, lineStyle: { color: ZBLUE, width: 12, type: [84, 53] } }
      ] },
    markerLegend(2185, 2591, 'D98 Re (NaN or Empty)', 'Z-LWP'),
    markerLegend(432, 3894, 'D98 Nd (NaN or Empty)', 'Z-LWP Nd'),
    markerLegend(644, 4840, 'D98 OD (NaN or Empty)', 'Z-LWP Nd')
  ],
  series
};

const chart = echarts.init(document.getElementById('chart'), null, { renderer: 'canvas' });
chart.setOption(option);
</script></body></html>
